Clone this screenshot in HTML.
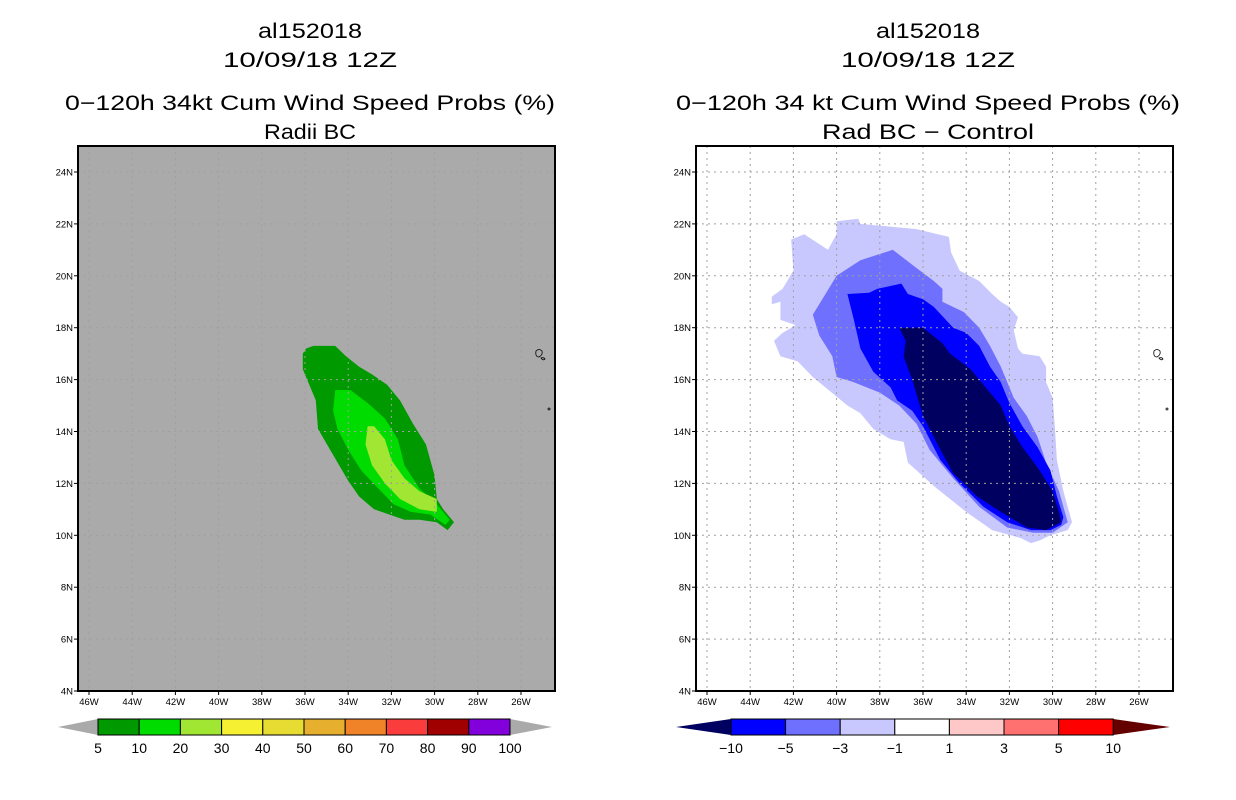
<!DOCTYPE html>
<html><head><meta charset="utf-8"><style>
html,body{margin:0;padding:0;background:#fff;}
svg{display:block;font-family:"Liberation Sans",sans-serif;}
</style></head><body>
<svg id="fig" width="1236" height="800" viewBox="0 0 1236 800" xmlns="http://www.w3.org/2000/svg"></svg>
<script>
// ---- data ----
const lonTicks=[-46,-44,-42,-40,-38,-36,-34,-32,-30,-28,-26];
const latTicks=[4,6,8,10,12,14,16,18,20,22,24];
const leftLevels=["5","10","20","30","40","50","60","70","80","90","100"];
const leftColors=["#009900","#00dc00","#a0e632","#f5f032","#e6dc32","#e6af2d","#f08228","#fa3c3c","#a00000","#8200dc"];
const rightLevels=["\u221210","\u22125","\u22123","\u22121","1","3","5","10"];
const rightColors=["#0000ff","#7070ff","#c8c8ff","#ffffff","#ffc8c8","#ff7070","#ff0000"];
// contour polygons [lon, lat]
const probGe5=[[-36.1,17.0],[-35.95,17.2],[-35.6,17.3],[-34.8,17.3],[-34.6,17.3],[-34.1,16.9],[-33.5,16.5],[-32.9,16.2],[-32.2,15.8],[-31.6,15.2],[-31.0,14.3],[-30.4,13.5],[-30.0,12.3],[-29.9,11.4],[-29.6,11.0],[-29.1,10.5],[-29.4,10.2],[-29.9,10.5],[-30.7,10.6],[-31.4,10.6],[-32.1,10.8],[-32.8,11.0],[-33.5,11.5],[-34.0,12.1],[-34.7,13.1],[-35.4,14.1],[-35.5,15.2],[-35.8,15.8],[-36.1,16.4]];
const probGe10=[[-34.6,15.6],[-33.9,15.6],[-33.1,15.1],[-32.3,14.5],[-31.7,13.7],[-31.4,12.7],[-30.7,11.8],[-29.9,11.2],[-29.3,10.6],[-29.5,10.4],[-30.2,10.8],[-31.1,10.9],[-31.9,11.2],[-32.6,11.8],[-33.4,12.5],[-34.0,13.3],[-34.5,14.1],[-34.7,14.8]];
const probGe20=[[-33.1,14.2],[-32.8,14.2],[-32.3,13.7],[-32.0,12.9],[-31.4,12.2],[-30.7,11.7],[-29.9,11.4],[-29.9,10.9],[-30.7,11.0],[-31.6,11.4],[-32.3,12.0],[-32.9,12.7],[-33.2,13.5]];
const diffLeM1=[[-40.0,22.1],[-39.0,22.2],[-38.9,22.0],[-36.3,21.8],[-34.8,21.5],[-34.7,20.9],[-34.3,20.2],[-33.4,19.8],[-32.8,19.3],[-32.4,19.0],[-32.0,18.8],[-31.6,18.4],[-31.8,17.9],[-31.6,17.2],[-31.4,17.0],[-30.6,16.9],[-30.3,16.5],[-30.3,15.9],[-30.0,15.3],[-29.9,14.2],[-29.8,12.9],[-29.5,11.7],[-29.1,10.5],[-29.3,10.2],[-30.1,10.0],[-30.6,9.8],[-31.0,9.7],[-31.5,9.9],[-32.8,10.2],[-34.0,10.9],[-35.5,11.9],[-36.7,12.8],[-36.9,13.6],[-37.5,13.7],[-38.3,14.1],[-38.9,14.7],[-39.5,15.0],[-41.1,16.1],[-41.8,16.7],[-42.6,16.9],[-42.9,17.5],[-42.5,17.8],[-41.9,18.1],[-42.6,18.3],[-42.6,19.0],[-43.0,18.9],[-43.0,19.2],[-42.5,19.5],[-42.0,20.2],[-42.1,21.4],[-41.5,21.6],[-40.4,21.0],[-40.0,21.6]];
const diffLeM3=[[-41.1,18.5],[-40.0,20.0],[-38.9,20.6],[-37.4,21.0],[-36.3,20.3],[-35.5,19.8],[-35.1,19.5],[-35.1,19.0],[-34.1,18.6],[-33.4,18.0],[-32.9,17.3],[-32.4,16.5],[-31.8,15.3],[-31.2,14.6],[-30.7,13.8],[-30.3,12.8],[-29.7,11.7],[-29.3,10.5],[-30.0,10.1],[-30.9,10.1],[-32.1,10.3],[-33.4,11.1],[-34.6,12.2],[-35.7,13.3],[-36.3,14.3],[-37.1,15.0],[-38.0,15.5],[-39.2,15.9],[-40.0,16.1],[-40.2,16.9],[-40.8,17.7]];
const diffLeM5=[[-39.5,19.3],[-38.5,19.35],[-38.1,19.5],[-37.0,19.7],[-36.7,19.3],[-36.0,19.1],[-35.5,18.8],[-34.6,18.0],[-34.0,17.8],[-33.4,17.3],[-32.9,16.5],[-32.4,15.9],[-32.0,15.1],[-31.4,14.2],[-30.7,13.4],[-30.1,12.5],[-29.8,11.5],[-29.5,10.7],[-29.6,10.4],[-30.1,10.2],[-31.0,10.2],[-32.1,10.5],[-33.2,11.1],[-34.3,12.0],[-35.2,12.9],[-36.0,14.2],[-36.5,14.8],[-37.2,15.2],[-37.5,15.7],[-38.3,16.3],[-38.9,17.2],[-39.2,18.3]];
const diffLeM10=[[-37.1,18.0],[-36.0,18.0],[-35.1,17.4],[-34.75,17.0],[-33.8,16.4],[-33.0,15.6],[-32.4,15.0],[-32.0,14.2],[-31.4,13.4],[-30.6,12.5],[-30.0,11.7],[-29.7,10.9],[-29.6,10.5],[-30.3,10.2],[-31.2,10.3],[-32.4,10.9],[-33.5,11.5],[-34.6,12.4],[-35.2,13.3],[-36.0,14.6],[-36.5,16.0],[-36.9,16.9],[-36.8,17.5]];

// ---- helpers ----
const NS="http://www.w3.org/2000/svg";
const svg=document.getElementById('fig');
function mk(tag,attrs,parent){const e=document.createElementNS(NS,tag);for(const k in attrs)e.setAttribute(k,attrs[k]);(parent||svg).appendChild(e);return e;}
const PL={x0:78,x1:555,y0:146,y1:691};
function xScale(off){return lon=>89+off+(lon+46)*21.6;}
function yScale(lat){return 172+(24-lat)*25.95;}

function polygon(g,pts,fill,xs,name){
  const p=mk('polygon',{points:pts.map(d=>xs(d[0]).toFixed(1)+','+yScale(d[1]).toFixed(1)).join(' '),fill:fill},g);
  
  
}

function panel(off,bg,layers,titles,widths,name){
  const g=mk('g',{});
  
  
  const xs=xScale(off);
  const cx=off+310;
  const ys=[38,67,110,139];
  titles.forEach((txt,i)=>{
    const a={x:cx,y:ys[i],'text-anchor':'middle','font-size':21,fill:'#000',textLength:widths[i],lengthAdjust:'spacingAndGlyphs'};
    const e=mk('text',a,g);e.textContent=txt;
    
    
  });
  const bgr=mk('rect',{x:PL.x0+off,y:PL.y0,width:PL.x1-PL.x0,height:PL.y1-PL.y0,fill:bg},g);
  
  
  layers.forEach(l=>polygon(g,l[0],l[1],xs,l[2]));
  lonTicks.forEach(lon=>{const x=xs(lon);mk('line',{x1:x,x2:x,y1:PL.y0,y2:PL.y1,stroke:'#a0a0a0','stroke-width':1,'stroke-dasharray':'2,4'},g);});
  latTicks.slice(1).forEach(lat=>{const y=yScale(lat);mk('line',{x1:PL.x0+off,x2:PL.x1+off,y1:y,y2:y,stroke:'#a0a0a0','stroke-width':1,'stroke-dasharray':'2,4'},g);});
  mk('path',{d:`M${off+536},${351} q3,-3 6,0 q1,4 -3,6 q-4,0 -3,-6 z M${off+541},${358} q3,-1 4,1 q-2,2 -4,-1z`,fill:'none',stroke:'#000','stroke-width':0.8},g);
  mk('circle',{cx:off+549,cy:409,r:1,fill:'none',stroke:'#000','stroke-width':0.8},g);
  const fr=mk('rect',{x:PL.x0+off,y:PL.y0,width:PL.x1-PL.x0,height:PL.y1-PL.y0,fill:'none',stroke:'#000','stroke-width':2},g);
  
  
  lonTicks.forEach(lon=>{const x=xs(lon);mk('line',{x1:x,x2:x,y1:PL.y1,y2:PL.y1+4,stroke:'#000'},g);
    const e=mk('text',{x:x,y:705,'text-anchor':'middle','font-size':9.5},g);e.textContent=(-lon)+'W';
    
    });
  latTicks.forEach(lat=>{const y=yScale(lat);mk('line',{x1:PL.x0+off-4,x2:PL.x0+off,y1:y,y2:y,stroke:'#000'},g);
    const e=mk('text',{x:PL.x0+off-5,y:y+3.5,'text-anchor':'end','font-size':9.5},g);e.textContent=lat+'N';
    
    });
  return g;
}

function colorbar(bounds,tipL,tipR,colors,tipColors,labels,name){
  const g=mk('g',{});
  
  
  const y0=719,y1=735,ym=727;
  mk('polygon',{points:`${tipL},${ym} ${bounds[0]},${y0} ${bounds[0]},${y1}`,fill:tipColors[0]},g);
  mk('polygon',{points:`${tipR},${ym} ${bounds[bounds.length-1]},${y0} ${bounds[bounds.length-1]},${y1}`,fill:tipColors[1]},g);
  colors.forEach((c,i)=>{const r=mk('rect',{x:bounds[i],y:y0,width:bounds[i+1]-bounds[i],height:y1-y0,fill:c,stroke:'#000','stroke-width':1},g);
    
    });
  labels.forEach((l,i)=>{const e=mk('text',{x:bounds[i],y:753,'text-anchor':'middle','font-size':14},g);e.textContent=l;
    
    });
}

panel(0,'#aaaaaa',[[probGe5,leftColors[0],'contour-5'],[probGe10,leftColors[1],'contour-10'],[probGe20,leftColors[2],'contour-20']],
  ['al152018','10/09/18 12Z','0\u2212120h 34kt Cum Wind Speed Probs (%)','Radii BC'],[104,174,490,92],'left-panel');
panel(618,'#ffffff',[[diffLeM1,rightColors[2],'contour-minus1'],[diffLeM3,rightColors[1],'contour-minus3'],[diffLeM5,rightColors[0],'contour-minus5'],[diffLeM10,'#000060','contour-minus10']],
  ['al152018','10/09/18 12Z','0\u2212120h 34 kt Cum Wind Speed Probs (%)','Rad BC \u2212 Control'],[104,174,504,212],'right-panel');

const lb=leftLevels.map((_,i)=>98+i*41.2);
colorbar(lb,58,552,leftColors,['#aaaaaa','#aaaaaa'],leftLevels,'left-colorbar');
const rb=rightLevels.map((_,i)=>731+i*54.6);
colorbar(rb,676,1170,rightColors,['#000060','#640000'],rightLevels,'right-colorbar');
</script>
</body></html>
